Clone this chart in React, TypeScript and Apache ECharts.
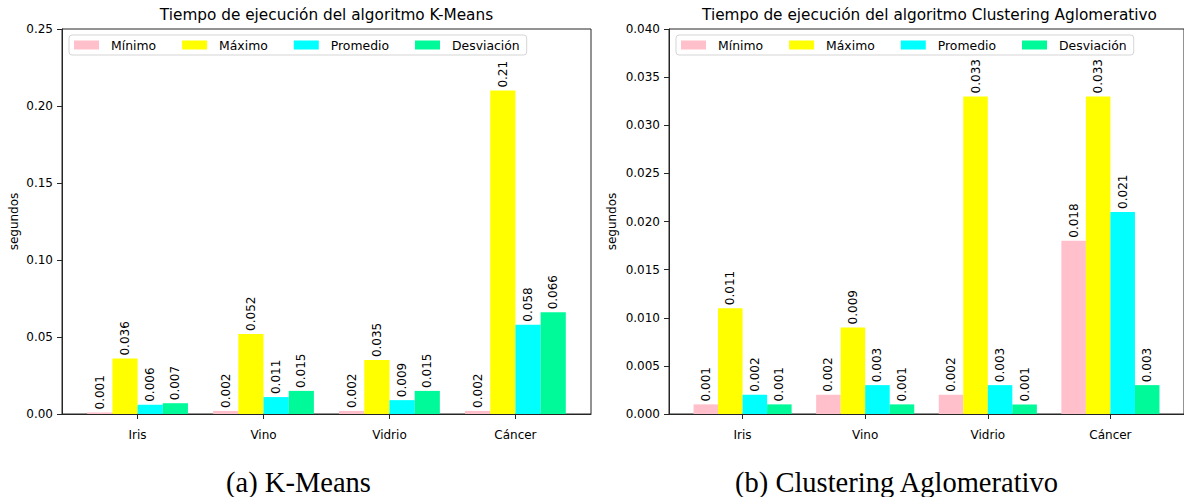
import React, { useEffect, useRef } from "react";
import * as echarts from "echarts";

const categories = ["Iris", "Vino", "Vidrio", "Cáncer"];
const seriesNames = ["Mínimo", "Máximo", "Promedio", "Desviación"];
const seriesColors = ["#FFC0CB", "#FFFF00", "#00FFFF", "#00FA9A"];
const barOffsets = [-0.3, -0.1, 0.1, 0.3];

// K-Means (segundos)
const kmMinimo = [0.001, 0.002, 0.002, 0.002];
const kmMaximo = [0.036, 0.052, 0.035, 0.21];
const kmPromedio = [0.006, 0.011, 0.009, 0.058];
const kmDesviacion = [0.007, 0.015, 0.015, 0.066];

// Clustering Aglomerativo (segundos)
const caMinimo = [0.001, 0.002, 0.002, 0.018];
const caMaximo = [0.011, 0.009, 0.033, 0.033];
const caPromedio = [0.002, 0.003, 0.003, 0.021];
const caDesviacion = [0.001, 0.001, 0.001, 0.003];

const kmTicks = [0, 0.05, 0.1, 0.15, 0.2, 0.25];
const caTicks = [0, 0.005, 0.01, 0.015, 0.02, 0.025, 0.03, 0.035, 0.04];

const titles = [
  "Tiempo de ejecución del algoritmo K-Means",
  "Tiempo de ejecución del algoritmo Clustering Aglomerativo",
];
const captions = ["(a) K-Means", "(b) Clustering Aglomerativo"];
const yName = "segundos";

const FONT = "DejaVu Sans";
const AXIS_COLOR = "#262626";

export default function App() {
  const ref = useRef<HTMLDivElement>(null);

  useEffect(() => {
    if (!ref.current) return;
    const chart = echarts.init(ref.current, null, { renderer: "svg" });

    const grids = [
      { left: 62, top: 29, width: 529, height: 385 },
      { left: 669, top: 29, width: 521, height: 385 },
    ];

    const makeX = (gi: number) => ({
      type: "value",
      gridIndex: gi,
      min: -0.6,
      max: 3.6,
      splitLine: { show: false },
      axisLine: { show: true, onZero: false, lineStyle: { color: AXIS_COLOR, width: 1 } },
      axisTick: {
        show: true,
        length: 5,
        customValues: [0, 1, 2, 3],
        lineStyle: { color: AXIS_COLOR },
      },
      axisLabel: {
        customValues: [0, 1, 2, 3],
        formatter: (v: number) => categories[Math.round(v)] ?? "",
        margin: 15,
        fontSize: 12,
        fontFamily: FONT,
        color: "#000",
      },
    });

    const makeY = (gi: number, ticks: number[], digits: number, nameGap: number) => ({
      type: "value",
      gridIndex: gi,
      min: ticks[0],
      max: ticks[ticks.length - 1],
      interval: ticks[1] - ticks[0],
      name: yName,
      nameLocation: "middle",
      nameGap,
      nameTextStyle: { fontSize: 12, fontFamily: FONT, color: "#000" },
      splitLine: { show: false },
      axisLine: { show: true, onZero: false, lineStyle: { color: AXIS_COLOR, width: 1 } },
      axisTick: { show: true, length: 5, lineStyle: { color: AXIS_COLOR } },
      axisLabel: {
        formatter: (v: number) => v.toFixed(digits),
        margin: 9,
        fontSize: 12,
        fontFamily: FONT,
        color: "#000",
      },
    });

    const groups = [
      [kmMinimo, kmMaximo, kmPromedio, kmDesviacion],
      [caMinimo, caMaximo, caPromedio, caDesviacion],
    ];

    const series: any[] = [];
    groups.forEach((group, gi) => {
      group.forEach((vals, si) => {
        series.push({
          type: "bar",
          name: seriesNames[si],
          xAxisIndex: gi,
          yAxisIndex: gi,
          barWidth: "100%",
          barGap: "-100%",
          itemStyle: { color: seriesColors[si] },
          data: vals.map((v, ci) => [ci + barOffsets[si], v]),
          label: {
            show: true,
            position: "top",
            rotate: 90,
            align: "left",
            verticalAlign: "middle",
            distance: 3,
            fontSize: 12,
            fontFamily: FONT,
            color: "#000",
            formatter: (p: any) => String(p.value[1]),
          },
        });
      });
    });

    const legendBase = {
      orient: "horizontal",
      top: 35,
      icon: "rect",
      itemWidth: 25,
      itemHeight: 9,
      itemGap: 26,
      padding: [4, 7, 4, 5],
      borderColor: "#d5d5d5",
      borderWidth: 1,
      borderRadius: 3,
      backgroundColor: "rgba(255,255,255,0.8)",
      selectedMode: false,
      data: seriesNames,
      textStyle: {
        fontSize: 12.4,
        fontFamily: FONT,
        color: "#000",
        padding: [0, 0, 0, 7],
      },
    };

    const titleStyle = {
      align: "center",
      verticalAlign: "middle",
      fontSize: 15.3,
      fontFamily: FONT,
      fill: "#000",
    };
    const captionStyle = {
      align: "center",
      verticalAlign: "middle",
      fontSize: 28.5,
      fontFamily: "Liberation Serif",
      fill: "#000",
    };

    chart.setOption({
      animation: false,
      backgroundColor: "#ffffff",
      grid: grids.map((g) => ({
        ...g,
        show: true,
        borderColor: AXIS_COLOR,
        borderWidth: 1,
        backgroundColor: "transparent",
      })),
      xAxis: [makeX(0), makeX(1)],
      yAxis: [makeY(0, kmTicks, 2, 42), makeY(1, caTicks, 3, 51)],
      legend: [
        { ...legendBase, left: 69 },
        { ...legendBase, left: 676 },
      ],
      series,
      graphic: [
        { type: "text", x: 326.5, y: 15, style: { ...titleStyle, text: titles[0] } },
        { type: "text", x: 929.5, y: 15, style: { ...titleStyle, text: titles[1] } },
        { type: "text", x: 298.5, y: 482, style: { ...captionStyle, text: captions[0] } },
        { type: "text", x: 896.5, y: 482, style: { ...captionStyle, text: captions[1] } },
      ],
    });

    return () => chart.dispose();
  }, []);

  return (
    <div
      ref={ref}
      style={{ position: "absolute", left: 0, top: 0, width: 1184, height: 497 }}
    />
  );
}
